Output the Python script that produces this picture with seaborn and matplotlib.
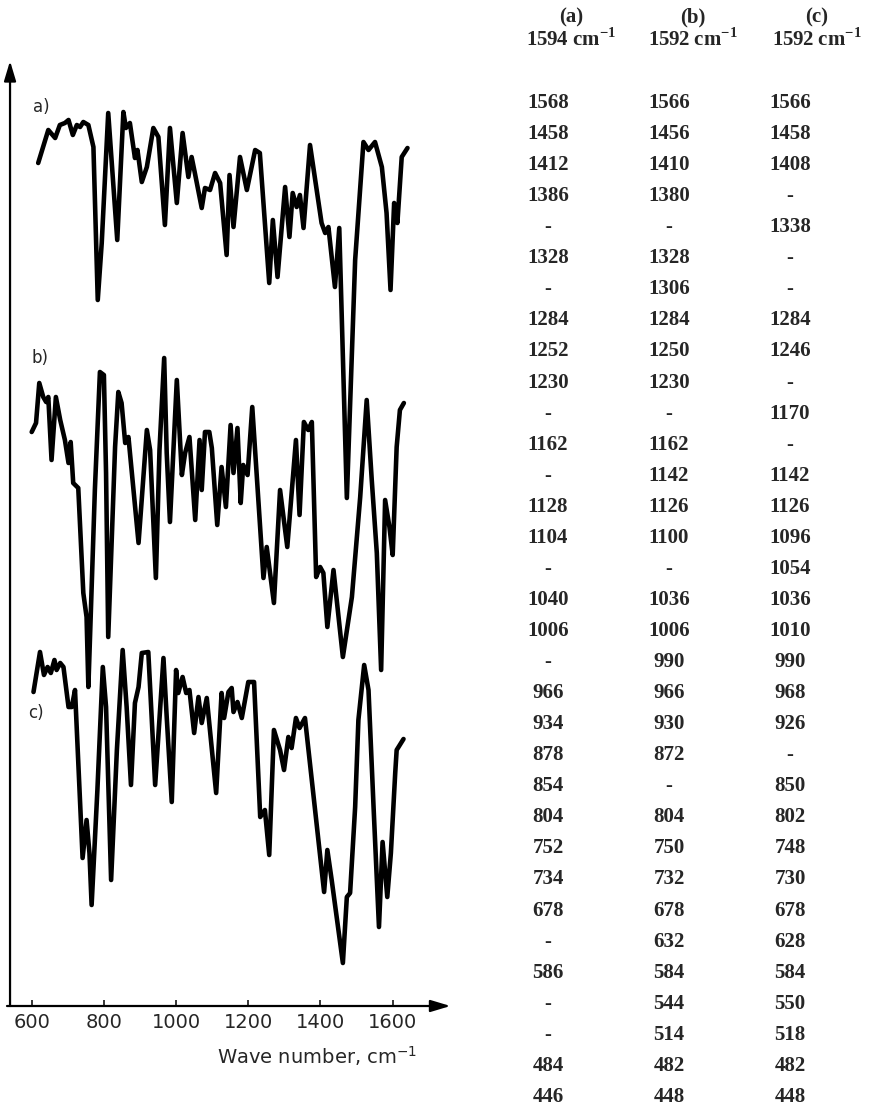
import numpy as np
import pandas as pd
import matplotlib
matplotlib.use('Agg')
import matplotlib.pyplot as plt
import seaborn as sns

# IR spectra (wave number, signal in arbitrary units, traces offset)
wn_a = [618, 646, 665, 678, 692, 702, 714, 725, 734, 743, 757, 771, 783, 794, 812, 837, 854, 861, 872, 886,
        893, 905, 919, 937, 951, 969, 983, 1002, 1018, 1034, 1043, 1052, 1071, 1080, 1094, 1108, 1122, 1140,
        1148, 1159, 1177, 1196, 1219, 1232, 1258, 1268, 1281, 1302, 1314, 1323, 1334, 1343, 1353, 1371, 1403,
        1413, 1422, 1440, 1452, 1473, 1496, 1519, 1533, 1551, 1570, 1583, 1594, 1604, 1613, 1625, 1641]
tr_a = [84.3, 87.6, 86.8, 88.1, 88.3, 88.6, 87.1, 88.1, 87.9, 88.4, 88.1, 85.9, 70.6, 76.3, 89.3, 76.6, 89.4,
        87.8, 88.3, 84.8, 85.6, 82.4, 83.9, 87.8, 86.9, 78.1, 87.8, 80.3, 87.3, 82.9, 84.9, 83.3, 79.8, 81.8,
        81.6, 83.3, 82.3, 75.1, 83.1, 77.9, 84.9, 81.6, 85.6, 85.3, 72.3, 78.6, 72.9, 81.9, 76.9, 81.3, 79.9,
        81.1, 77.8, 86.1, 78.3, 77.3, 77.9, 71.9, 77.8, 50.8, 74.6, 86.4, 85.6, 86.4, 83.9, 79.3, 71.6, 80.3,
        78.3, 84.9, 85.8]

wn_b = [600, 612, 621, 632, 640, 646, 655, 667, 679, 692, 702, 708, 715, 729, 743, 752, 757, 775, 789, 800,
        806, 812, 831, 840, 849, 859, 868, 896, 919, 928, 944, 954, 967, 974, 983, 1002, 1016, 1025, 1037,
        1053, 1065, 1071, 1080, 1092, 1099, 1114, 1126, 1138, 1151, 1159, 1170, 1179, 1186, 1198, 1211, 1242,
        1251, 1271, 1288, 1308, 1332, 1342, 1354, 1366, 1376, 1388, 1399, 1408, 1419, 1436, 1462, 1487, 1510,
        1528, 1542, 1556, 1568, 1579, 1591, 1600, 1611, 1620, 1631]
tr_b = [57.4, 58.3, 62.3, 60.9, 60.4, 60.9, 54.6, 60.9, 58.6, 56.6, 54.3, 56.4, 52.3, 51.8, 41.3, 38.9, 31.9,
        51.6, 63.4, 63.1, 53.3, 36.9, 55.9, 61.4, 60.3, 56.3, 56.9, 46.3, 57.6, 55.6, 42.8, 55.6, 64.8, 55.3,
        48.4, 62.6, 53.1, 55.3, 56.9, 48.6, 56.6, 51.6, 57.4, 57.4, 55.8, 48.1, 53.9, 49.9, 58.1, 53.3, 57.8,
        50.3, 54.1, 53.1, 59.9, 42.8, 45.9, 40.3, 51.6, 45.9, 56.6, 49.1, 58.4, 57.6, 58.4, 42.9, 43.9, 43.3,
        37.9, 43.6, 34.9, 40.9, 50.9, 60.6, 52.6, 45.3, 33.6, 50.6, 47.9, 45.1, 55.9, 59.6, 60.3]

wn_c = [605, 623, 634, 644, 653, 663, 669, 679, 688, 702, 711, 720, 741, 752, 760, 766, 782, 797, 806, 820,
        836, 852, 863, 875, 886, 896, 905, 923, 942, 965, 974, 988, 1000, 1006, 1018, 1028, 1037, 1050, 1062,
        1071, 1085, 1111, 1126, 1133, 1145, 1154, 1159, 1170, 1182, 1200, 1216, 1233, 1246, 1258, 1271, 1288,
        1299, 1311, 1320, 1332, 1342, 1357, 1410, 1419, 1431, 1462, 1473, 1482, 1496, 1505, 1521, 1533, 1547,
        1562, 1572, 1585, 1595, 1607, 1611, 1630]
tr_c = [31.4, 35.4, 33.1, 33.9, 33.3, 34.6, 33.6, 34.3, 33.9, 29.9, 29.9, 31.6, 14.8, 18.6, 15.3, 10.1, 21.6,
        33.9, 29.9, 12.6, 25.6, 35.6, 29.9, 22.1, 30.3, 31.9, 35.3, 35.4, 22.1, 34.8, 28.9, 20.4, 33.6, 31.3,
        32.9, 31.3, 31.6, 27.3, 30.9, 28.3, 30.8, 21.3, 31.3, 28.8, 31.4, 31.8, 29.4, 30.4, 28.8, 32.4, 32.4,
        18.9, 19.6, 15.1, 27.6, 25.6, 23.6, 26.9, 25.8, 28.8, 27.8, 28.8, 11.4, 15.6, 12.6, 4.3, 10.9, 11.3,
        19.9, 28.6, 34.1, 31.6, 19.9, 7.9, 16.4, 10.9, 15.3, 23.3, 25.6, 26.7]

trace_names = ['a)', 'b)', 'c)']
tick_vals = [600, 800, 1000, 1200, 1400, 1600]

# band table
headers = ['(a)', '(b)', '(c)']
band_max = ['1594', '1592', '1592']
col_a = ['1568', '1458', '1412', '1386', '-', '1328', '-', '1284', '1252', '1230', '-', '1162', '-', '1128',
         '1104', '-', '1040', '1006', '-', '966', '934', '878', '854', '804', '752', '734', '678', '-', '586',
         '-', '-', '484', '446']
col_b = ['1566', '1456', '1410', '1380', '-', '1328', '1306', '1284', '1250', '1230', '-', '1162', '1142',
         '1126', '1100', '-', '1036', '1006', '990', '966', '930', '872', '-', '804', '750', '732', '678', '632',
         '584', '544', '514', '482', '448']
col_c = ['1566', '1458', '1408', '-', '1338', '-', '-', '1284', '1246', '-', '1170', '-', '1142', '1126',
         '1096', '1054', '1036', '1010', '990', '968', '926', '-', '850', '802', '748', '730', '678', '628',
         '584', '550', '518', '482', '448']

sns.set_style('white')
plt.rcParams['font.family'] = ['DejaVu Sans']
plt.rcParams['mathtext.fontset'] = 'custom'
plt.rcParams['mathtext.rm'] = 'Liberation Serif'
plt.rcParams['mathtext.bf'] = 'Liberation Serif:bold'
plt.rcParams['mathtext.sf'] = 'DejaVu Sans'

W, H = 873, 1106
fig = plt.figure(figsize=(W / 100, H / 100), dpi=100)
ax = fig.add_axes([7 / W, 1 - 1006 / H, 448 / W, 951 / H])

for wn, tr in [(wn_a, tr_a), (wn_b, tr_b), (wn_c, tr_c)]:
    sns.lineplot(x=wn, y=tr, ax=ax, color='black', linewidth=3.3, estimator=None, sort=False)
for line in ax.lines:
    line.set_solid_joinstyle('round')
    line.set_solid_capstyle('round')

for name, (xt, yt) in zip(trace_names, [(628, 89.9), (623, 64.8), (612, 29.3)]):
    ax.text(xt, yt, name, fontsize=12, ha='center', va='center')

ax.set_xlim(531.6, 1772.6)
ax.set_ylim(0, 95.1)
for s in ax.spines.values():
    s.set_visible(False)
ax.set_yticks([])
ax.set_xticks(tick_vals)
ax.tick_params(axis='x', direction='in', length=4, width=1.3, pad=5, labelsize=14, bottom=True)

arrow = dict(arrowstyle='-|>,head_length=0.6,head_width=0.18', color='black', lw=1.6, mutation_scale=20,
             shrinkA=0, shrinkB=0)
ax.annotate('', xy=(1760, 0), xytext=(531.6, 0), arrowprops=arrow, annotation_clip=False)
ax.annotate('', xy=(540, 94.5), xytext=(540, 0), arrowprops=arrow, annotation_clip=False)

ax.set_xlabel(r'Wave number, cm$^{\mathsf{-1}}$', fontsize=14)
ax.xaxis.set_label_coords(0.692, -0.040)

# table on the right
col_x = [548, 669, 790]
head_x = [571, 693, 817]
tfont = dict(family='Liberation Serif', weight='bold', fontsize=15, ha='center', va='center')
for cx, hx, h, bm, col in zip(col_x, head_x, headers, band_max, [col_a, col_b, col_c]):
    fig.text(hx / W, 1 - 17 / H, h, **tfont)
    fig.text(hx / W, 1 - 40 / H, bm + r' cm$^{\mathbf{-1}}$', **tfont)
    for i, val in enumerate(col):
        fig.text(cx / W, 1 - (103 + i * 31.06) / H, val, **tfont)

fig.savefig('out.png', dpi=100)
